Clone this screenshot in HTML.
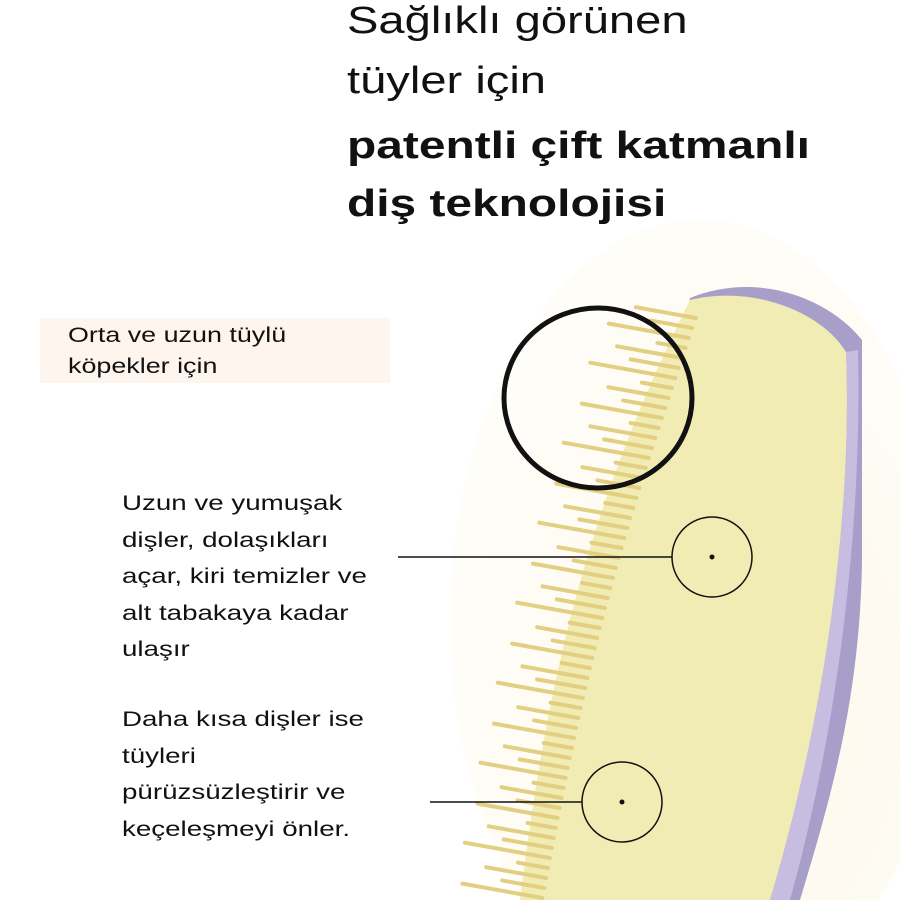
<!DOCTYPE html>
<html><head><meta charset="utf-8"><style>
html,body{margin:0;padding:0;width:900px;height:900px;overflow:hidden;background:#fff;font-family:"Liberation Sans",sans-serif;color:#111}
.t{position:absolute;white-space:nowrap;transform-origin:0 0}
.h{font-size:38px;left:347px;transform:scaleX(1.24)}
.b{font-weight:bold;transform:scaleX(1.26)}
.s{font-size:21px;left:122px;transform:scaleX(1.32)}
</style></head><body>
<svg width="900" height="900" style="position:absolute;left:0;top:0;overflow:hidden">
<defs><radialGradient id="bg" cx="0.6" cy="0.6" r="0.6"><stop offset="0" stop-color="#fdf8ec"/><stop offset="1" stop-color="#fffdf8"/></radialGradient></defs>
<ellipse cx="700" cy="620" rx="250" ry="400" fill="url(#bg)"/>
<path d="M690,298 C760,270 830,300 862,340 L862,560 C860,700 830,800 800,900 L560,900 Z" fill="#a79ec9"/>
<path d="M690,300 C750,285 820,310 846,352 C852,500 830,700 770,900 L520,900 C545,700 580,520 690,300 Z" fill="#f1ecb4"/>
<path d="M846,352 C852,500 830,700 770,900 L790,900 C840,720 862,520 858,350 Z" fill="#c6bde0"/>
<g id="br" stroke="#e3cf82" stroke-linecap="round" stroke-width="4"></g>
<g fill="none" stroke="#111">
<ellipse cx="598" cy="398" rx="94" ry="90" stroke-width="5"/>
<circle cx="712" cy="557" r="40" stroke-width="1.5"/>
<circle cx="622" cy="802" r="40" stroke-width="1.5"/>
<line x1="398" y1="557" x2="672" y2="557" stroke-width="1.5"/>
<line x1="430" y1="802" x2="582" y2="802" stroke-width="1.5"/>
</g>
<circle cx="712" cy="557" r="2.5" fill="#111"/>
<circle cx="622" cy="802" r="2.5" fill="#111"/>
</svg>
<script>
(function(){var g=document.getElementById('br'),s='';
function ex(y){if(y<300)return 690;var t=(y-300)/600;return 690-t*160-Math.sin(t*3.14)*15;}
var i=0;for(var y=318;y<905;y+=10){i++;var x=ex(y)+12;var L=[30,60,42,80,28,65,48,85][i%8];
s+='<line x1="'+x+'" y1="'+y+'" x2="'+(x-L)+'" y2="'+(y-L*0.18)+'"/>';}
g.innerHTML=s;})();
</script>
<div class="t h" style="top:0px">Sağlıklı görünen</div>
<div class="t h" style="top:60px">tüyler için</div>
<div class="t h b" style="top:125px">patentli çift katmanlı</div>
<div class="t h b" style="top:183px">diş teknolojisi</div>
<div style="position:absolute;left:40px;top:318px;width:350px;height:65px;background:#fdf5ee"></div>
<div class="t s" style="left:68px;top:320px;line-height:31px;transform:scaleX(1.28)">Orta ve uzun tüylü<br>köpekler için</div>
<div class="t s" style="top:486px;line-height:36.5px">Uzun ve yumuşak<br>dişler, dolaşıkları<br>açar, kiri temizler ve<br>alt tabakaya kadar<br>ulaşır</div>
<div class="t s" style="top:702px;line-height:36.5px">Daha kısa dişler ise<br>tüyleri<br>pürüzsüzleştirir ve<br>keçeleşmeyi önler.</div>
</body></html>
